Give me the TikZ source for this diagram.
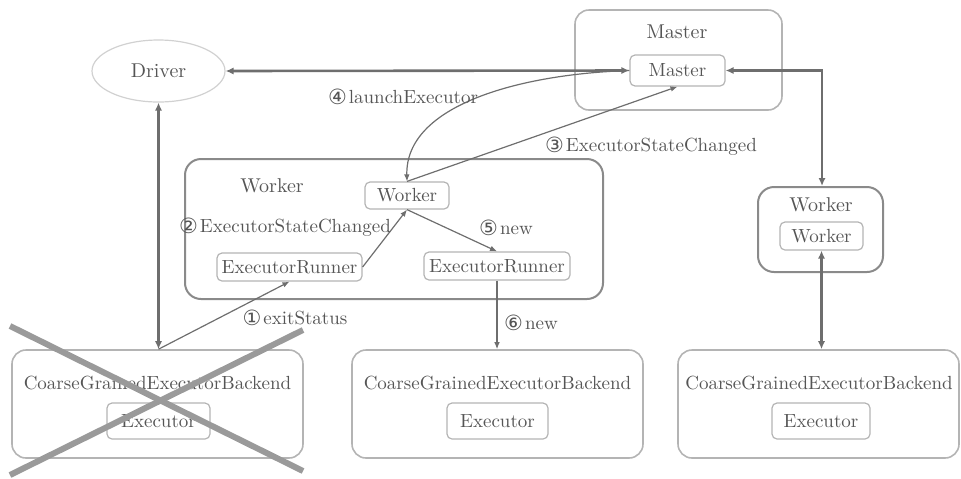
\documentclass[tikz,border=0pt]{standalone}
\usepackage{fontspec}
\usetikzlibrary{arrows.meta,shapes.geometric}
\newfontfamily\circfont{DejaVu Sans}[Scale=1]
\definecolor{txt}{HTML}{555555}
\definecolor{lnk}{HTML}{6E6E6E}
\definecolor{boxlight}{HTML}{B4B4B4}
\definecolor{boxdark}{HTML}{8A8A8A}
\definecolor{crossc}{HTML}{9A9A9A}
\newcommand{\cnum}[1]{{\circfont\fontsize{10.5}{11}\selectfont\raisebox{-0.5pt}{#1}}\kern1pt}
\tikzset{
  lbl/.style={text=txt, font=\fontsize{9.5}{11}\selectfont, inner sep=0pt},
  title/.style={text=txt, font=\fontsize{10}{12}\selectfont, inner sep=0pt},
  outerbox/.style={draw=boxlight, line width=0.8pt, rounded corners=7pt, inner sep=0pt},
  workerbox/.style={draw=boxdark, line width=1pt, rounded corners=8pt, inner sep=0pt},
  innerbox/.style={draw=boxlight, line width=0.6pt, rounded corners=2.5pt, inner sep=0pt,
    text=txt, font=\fontsize{9.5}{11}\selectfont},
  biglink/.style={draw=lnk, line width=1.3pt, {Latex[length=4pt,width=3.6pt]}-{Latex[length=4pt,width=3.6pt]}},
  msg/.style={draw=lnk, line width=0.6pt, -{Latex[length=3.5pt,width=2.8pt]}},
  crossline/.style={draw=crossc, line width=3pt}
}
\begin{document}
\begin{tikzpicture}[x=0.5pt,y=-0.5pt]
\useasboundingbox (0,0) rectangle (961,478);

% --- Master ---
\node[outerbox, minimum width=103.5pt, minimum height=50pt] (mastero) at (678.5,60) {};
\node[title] (mastert) at (677,32) {Master};
\node[innerbox, minimum width=47.5pt, minimum height=15.5pt] (master) at (677.5,70.5) {Master};

% --- Driver ---
\node[ellipse, draw=black!18, line width=0.6pt, minimum width=66.5pt, minimum height=31pt,
      text=txt, font=\fontsize{10}{12}\selectfont] (driver) at (158.5,71) {Driver};

% --- Worker running the executors ---
\node[workerbox, minimum width=209pt, minimum height=70pt] (workero) at (394,229) {};
\node[title] (workert) at (272,186) {Worker};
\node[innerbox, minimum width=42pt, minimum height=13.5pt] (worker) at (407,195.5) {Worker};
\node[innerbox, minimum width=72.5pt, minimum height=14pt] (runl) at (289.5,267) {ExecutorRunner};
\node[innerbox, minimum width=73pt, minimum height=14pt] (runr) at (497,266) {ExecutorRunner};

% --- Second worker ---
\node[workerbox, minimum width=62.5pt, minimum height=42.5pt] (workerro) at (820.5,229.5) {};
\node[title] (workerrt) at (821,205) {Worker};
\node[innerbox, minimum width=41.5pt, minimum height=14pt] (workerr) at (821.5,236) {Worker};

% --- Executor backends ---
\node[outerbox, minimum width=145.5pt, minimum height=54pt] (cgebl) at (157.5,404) {};
\node[lbl] (cgeblt) at (157.5,383) {CoarseGrainedExecutorBackend};
\node[innerbox, minimum width=51.5pt, minimum height=18pt] (execl) at (158.5,421) {Executor};

\node[outerbox, minimum width=145.5pt, minimum height=54pt] (cgebm) at (497.5,404) {};
\node[lbl] (cgebmt) at (497.5,383) {CoarseGrainedExecutorBackend};
\node[innerbox, minimum width=50.5pt, minimum height=18pt] (execm) at (497.5,421) {Executor};

\node[outerbox, minimum width=140.5pt, minimum height=54pt] (cgebr) at (818.5,404) {};
\node[lbl] (cgebrt) at (819,383) {CoarseGrainedExecutorBackend};
\node[innerbox, minimum width=49pt, minimum height=18pt] (execr) at (821,421) {Executor};

% --- Permanent connections ---
\draw[biglink] (driver.east) -- (master.west);
\coordinate (turn) at (822,70.5);
\draw[biglink] (master.east) -- (turn) -- (workerro.north -| turn);
\draw[biglink] (workerr.south) -- (cgebr.north -| workerr.south);
\draw[biglink] (driver.south) -- (cgebl.north -| driver.south);

% --- Messages ---
\draw[msg] (cgebl.north -| driver.south) -- (runl.south);
\node[lbl] (m1) at (295,318) {\cnum{①}exitStatus};

\draw[msg] (runl.east) -- (worker.south);
\node[lbl] (m2) at (285,227) {\cnum{②}ExecutorStateChanged};

\draw[msg] (worker.north) -- (master.south);
\node[lbl] (m3) at (651,146) {\cnum{③}ExecutorStateChanged};

\draw[msg] (master.west) .. controls (520,74) and (405,105) .. (worker.north);
\node[lbl] (m4) at (403,97) {\cnum{④}launchExecutor};

\draw[msg] (worker.south) -- (runr.north);
\node[lbl] (m5) at (506,228) {\cnum{⑤}new};

\draw[msg] (runr.south) -- (cgebm.north -| runr.south);
\node[lbl] (m6) at (531,323) {\cnum{⑥}new};

% --- Failed backend struck out ---
\draw[crossline] (10,326) -- (303,471);
\draw[crossline] (10,475) -- (303,330);
\end{tikzpicture}
\end{document}
